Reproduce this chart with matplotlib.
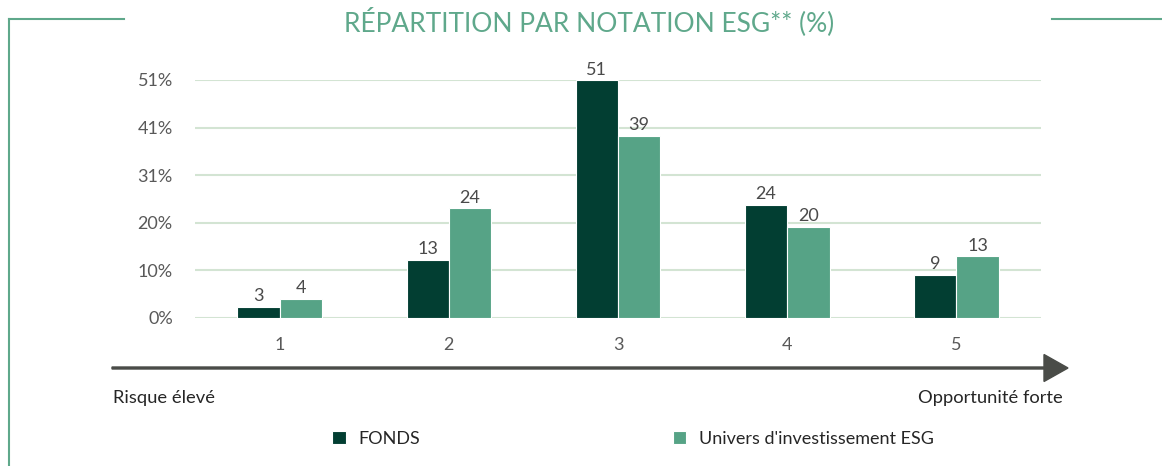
import numpy as np
import matplotlib
matplotlib.use("Agg")
from matplotlib import pyplot as plt
from matplotlib.lines import Line2D
from matplotlib.patches import FancyArrow

plt.rcParams['font.family'] = ['Lato', 'DejaVu Sans']

# data
categories = ["1", "2", "3", "4", "5"]
fonds = [2.4, 12.5, 50.9, 24.3, 9.2]
univers = [4.1, 23.5, 39.0, 19.5, 13.2]
fonds_labels = [3, 13, 51, 24, 9]
univers_labels = [4, 24, 39, 20, 13]
ytick_vals = [0, 10.2, 20.4, 30.6, 40.8, 51]
ytick_labels = ["0%", "10%", "20%", "31%", "41%", "51%"]
series_names = ["FONDS", "Univers d'investissement ESG"]

dark = "#023e32"
light = "#56a386"
frame = "#5fa88b"
grey = "#595959"

W, H = 1162, 466
fig = plt.figure(figsize=(W / 100, H / 100), dpi=100)
# axes placed in pixel terms
x0, x1, y0, y1 = 195, 1041, 318, 80
ax = fig.add_axes([x0 / W, 1 - y0 / H, (x1 - x0) / W, (y0 - y1) / H])

x = np.arange(len(categories))
w = 0.25
b1 = ax.bar(x - w / 2, fonds, w, color=dark, edgecolor="white", linewidth=0.8, label=series_names[0], zorder=3)
b2 = ax.bar(x + w / 2, univers, w, color=light, edgecolor="white", linewidth=0.8, label=series_names[1], zorder=3)

for bars, labs in ((b1, fonds_labels), (b2, univers_labels)):
    for r, lab in zip(bars, labs):
        ax.annotate(str(lab), (r.get_x() + r.get_width() / 2, r.get_height()),
                    xytext=(0, 2), textcoords="offset points", ha="center", va="bottom",
                    fontsize=13, color="#4a4a4a")

ax.set_xlim(-0.5, len(categories) - 0.5)
ax.set_ylim(0, 51)
ax.set_yticks(ytick_vals)
ax.set_yticklabels(ytick_labels)
ax.set_xticks(x)
ax.set_xticklabels(categories)
ax.tick_params(axis="both", length=0, labelsize=13, colors=grey)
ax.tick_params(axis="y", pad=16)
ax.tick_params(axis="x", pad=14)
ax.yaxis.grid(True, color="#d3e4d3", linewidth=1.5, zorder=0)
for s in ax.spines.values():
    s.set_visible(False)

# title and frame decoration
fig.text(589 / W, 1 - 22 / H, "RÉPARTITION PAR NOTATION ESG** (%)", ha="center", va="center",
         fontsize=19, color=frame)
fig.add_artist(Line2D([9 / W, 124 / W], [1 - 19 / H, 1 - 19 / H], color=frame, lw=1.5))
fig.add_artist(Line2D([9 / W, 9 / W], [1 - 19 / H, 0], color=frame, lw=1.5))
fig.add_artist(Line2D([1052 / W, 1], [1 - 19 / H, 1 - 19 / H], color=frame, lw=1.5))

# risk -> opportunity arrow
fig.add_artist(FancyArrow(112 / W, 1 - 368 / H, (1044 - 112) / W, 0, width=2.0 / H,
                          head_width=27 / H, head_length=24 / W, length_includes_head=False,
                          color="#4a4c48", transform=fig.transFigure))
fig.text(113 / W, 1 - 398 / H, "Risque élevé", ha="left", va="center", fontsize=13.2, color="#262626")
fig.text(1063 / W, 1 - 398 / H, "Opportunité forte", ha="right", va="center", fontsize=13.2, color="#262626")

fig.legend(handles=[b1, b2], labels=series_names, loc="center left", bbox_to_anchor=(323 / W, 1 - 439 / H),
           ncol=2, frameon=False, fontsize=13, handlelength=0.75, handleheight=0.75,
           handletextpad=0.7, columnspacing=14, labelcolor="#262626", borderpad=0)

fig.savefig("out.png", dpi=100)
